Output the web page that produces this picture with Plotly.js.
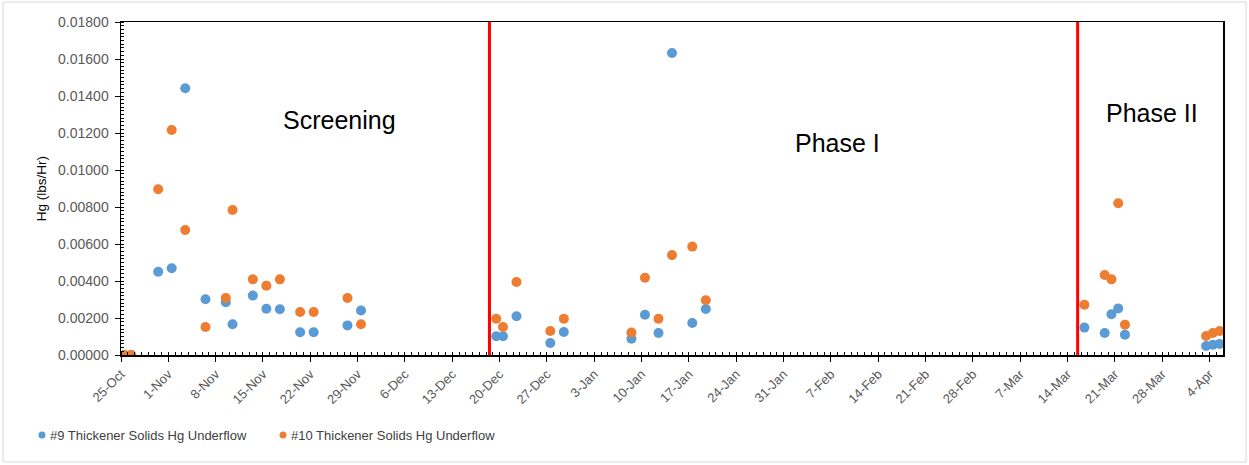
<!DOCTYPE html>
<html>
<head>
<meta charset="utf-8">
<script src="https://cdn.plot.ly/plotly-3.0.1.min.js"></script>
<style>html,body{margin:0;padding:0;background:#fff;}#chart{width:1249px;height:465px;}</style>
</head>
<body>
<div id="chart"></div>
<script>
// Sample dates (shared by both series)
const sampleDates = [
  '2018-10-25','2018-10-26','2018-10-30','2018-11-01','2018-11-03','2018-11-06','2018-11-09','2018-11-10',
  '2018-11-13','2018-11-15','2018-11-17','2018-11-20','2018-11-22','2018-11-27','2018-11-29',
  '2018-12-19','2018-12-20','2018-12-22','2018-12-27','2018-12-29',
  '2019-01-08','2019-01-10','2019-01-12','2019-01-14','2019-01-17','2019-01-19',
  '2019-03-16','2019-03-19','2019-03-20','2019-03-21','2019-03-22',
  '2019-04-03','2019-04-04','2019-04-05'
];
// #9 Thickener Solids Hg Underflow (lbs/Hr)
const hg9 = [
  0, 0, 0.00450, 0.00469, 0.01442, 0.00301, 0.00285, 0.00166,
  0.00321, 0.00250, 0.00247, 0.00123, 0.00123, 0.00160, 0.00241,
  0.00101, 0.00101, 0.00209, 0.00065, 0.00124,
  0.00088, 0.00218, 0.00119, 0.01632, 0.00173, 0.00249,
  0.00148, 0.00119, 0.00220, 0.00252, 0.00110,
  0.00049, 0.00055, 0.00060
];
// #10 Thickener Solids Hg Underflow (lbs/Hr)
const hg10 = [
  0, 0, 0.00896, 0.01216, 0.00676, 0.00151, 0.00308, 0.00784,
  0.00409, 0.00375, 0.00409, 0.00232, 0.00232, 0.00308, 0.00166,
  0.00196, 0.00151, 0.00395, 0.00130, 0.00196,
  0.00121, 0.00418, 0.00196, 0.00540, 0.00586, 0.00296,
  0.00272, 0.00432, 0.00409, 0.00820, 0.00164,
  0.00103, 0.00119, 0.00130
];
const seriesNames = ['#9 Thickener Solids Hg Underflow', '#10 Thickener Solids Hg Underflow'];
const seriesColors = ['#5B9BD5', '#ED7D31'];
// Phase boundaries (red lines)
const phaseBoundaries = ['2018-12-18 12:00', '2019-03-15 12:00'];
// Phase labels
const phaseLabels = ['Screening', 'Phase I', 'Phase II'];
const phaseLabelX = ['2018-11-26 06:00', '2019-02-08', '2019-03-26 12:00'];
const phaseLabelY = [0.01268, 0.01146, 0.01308];

const DAY = 86400000;
const font = 'Liberation Sans, Arial, sans-serif';

// plot-area geometry in pixels (for paper-coordinate helpers)
const PL = 121, PW = 1102, PB = 355, PH = 333;
const px = v => (v - PL) / PW;
const py = v => (PB - v) / PH;

const traces = [hg9, hg10].map((vals, i) => ({
  x: sampleDates, y: vals, name: seriesNames[i], type: 'scatter', mode: 'markers',
  xperiod: DAY, xperiodalignment: 'middle', showlegend: false,
  marker: {color: seriesColors[i], size: 10}
}));

const shapes = phaseBoundaries.map(d => ({
  type: 'line', xref: 'x', yref: 'paper', x0: d, x1: d, y0: 0, y1: 1,
  line: {color: '#FF0000', width: 3}
}));
// outer chart-area border
shapes.push({type: 'rect', xref: 'paper', yref: 'paper',
  x0: px(3), x1: px(1246), y0: py(462), y1: py(2),
  line: {color: '#D9D9D9', width: 1}, layer: 'below'});

const annotations = phaseLabels.map((t, i) => ({
  text: t, x: phaseLabelX[i], y: phaseLabelY[i], xref: 'x', yref: 'y',
  showarrow: false, xanchor: 'center', yanchor: 'middle',
  font: {family: font, size: 25, color: '#000'}
}));

// custom legend (Excel style: small dot right next to the text)
const legendDotX = [42, 283];
const legendY = 435;
seriesNames.forEach((n, i) => {
  shapes.push({type: 'circle', xref: 'paper', yref: 'paper',
    x0: px(legendDotX[i] - 3.5), x1: px(legendDotX[i] + 3.5),
    y0: py(legendY + 3.5), y1: py(legendY - 3.5),
    fillcolor: seriesColors[i], line: {width: 0}});
  annotations.push({text: n, xref: 'paper', yref: 'paper',
    x: px(legendDotX[i] + 6), y: py(legendY), xanchor: 'left', yanchor: 'middle',
    showarrow: false, font: {family: font, size: 13, color: '#404040'}});
});

const layout = {
  width: 1249, height: 465,
  margin: {l: 121, r: 26, t: 22, b: 110, pad: 0},
  paper_bgcolor: '#fff', plot_bgcolor: '#fff',
  font: {family: font, color: '#595959'},
  showlegend: false,
  xaxis: {
    type: 'date', range: ['2018-10-25', '2019-04-06'],
    tick0: '2018-10-25', dtick: 7 * DAY, tickformat: '%-d-%b', tickangle: -45,
    ticks: 'outside', ticklen: 5, tickcolor: '#000', tickwidth: 1,
    minor: {ticks: 'inside', dtick: DAY, tick0: '2018-10-25', ticklen: 3, tickcolor: '#000', showgrid: false},
    showline: true, linecolor: '#000', linewidth: 1.5, mirror: true,
    showgrid: false, zeroline: false,
    tickfont: {family: font, size: 13, color: '#595959'}
  },
  yaxis: {
    range: [0, 0.018], dtick: 0.002, tick0: 0, tickformat: '.5f',
    ticks: 'outside', ticklen: 5, tickcolor: '#000', tickwidth: 1,
    minor: {ticks: 'inside', dtick: 0.0002, ticklen: 3, tickcolor: '#000', showgrid: false},
    showline: true, linecolor: '#000', linewidth: 1.5, mirror: true,
    showgrid: false, zeroline: false, ticklabelstandoff: 3,
    tickfont: {family: font, size: 14, color: '#595959'},
    title: {text: 'Hg (lbs/Hr)', font: {family: font, size: 13.5, color: '#000'}, standoff: 8}
  },
  shapes: shapes,
  annotations: annotations
};

Plotly.newPlot('chart', traces, layout, {staticPlot: true, displayModeBar: false});
</script>
</body>
</html>
